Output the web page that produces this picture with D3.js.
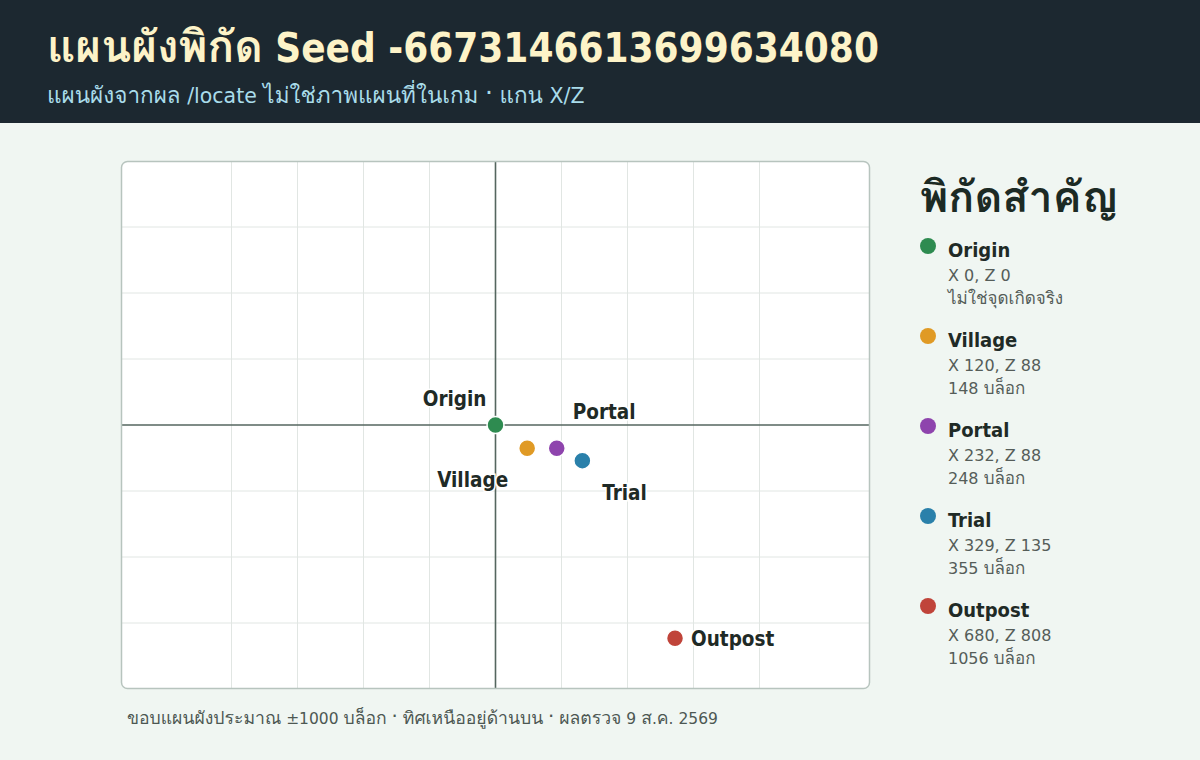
<!DOCTYPE html>
<html>
<head>
<meta charset="utf-8">
<script src="https://cdn.jsdelivr.net/npm/d3@7"></script>
<style>
  html, body { margin: 0; padding: 0; background: #f0f6f2; }
  svg { display: block; }
</style>
</head>
<body>
<svg id="chart" width="1200" height="760"></svg>
<script>
// ---- data ----
const names = ["Origin", "Village", "Portal", "Trial", "Outpost"];
const xValues = [0, 120, 232, 329, 680];
const zValues = [0, 88, 88, 135, 808];
const distLabels = ["ไม่ใช่จุดเกิดจริง", "148 บล็อก", "248 บล็อก", "355 บล็อก", "1056 บล็อก"];
const colors = ["#2e8b50", "#e09a25", "#8e44ad", "#2a80aa", "#c0443a"];
const gridTicks = [-1000, -750, -500, -250, 0, 250, 500, 750, 1000];
const zExtent = [-1000, 1000];

const titleText = "แผนผังพิกัด Seed -6673146613699634080";
const subtitleText = "แผนผังจากผล /locate ไม่ใช่ภาพแผนที่ในเกม · แกน X/Z";
const legendTitle = "พิกัดสำคัญ";
const footerText = "ขอบแผนผังประมาณ ±1000 บล็อก · ทิศเหนืออยู่ด้านบน · ผลตรวจ 9 ส.ค. 2569";

// ---- text helper: Latin runs in DejaVu, Thai runs in Loma ----
const COND = "'DejaVu Sans Condensed', 'DejaVu Sans', sans-serif";
const REG = "'DejaVu Sans', sans-serif";
const THAI = "'Loma', 'DejaVu Sans', sans-serif";
function richText(t, text, o) {
  const parts = text.split(/([\u0E00-\u0E7F\u00B7]+)/).filter(s => s.length);
  t.selectAll("tspan").data(parts).join("tspan")
    .attr("font-family", s => /[\u0E00-\u0E7F\u00B7]/.test(s) ? THAI : o.latin)
    .attr("font-size", s => /[\u0E00-\u0E7F\u00B7]/.test(s) ? o.thaiSize : o.size)
    .text(s => s);
  return t;
}

// ---- layout ----
const svg = d3.select("#chart");
const W = 1200, H = 760;
const plot = { left: 121, right: 870, top: 161, bottom: 689 };

// header band
svg.append("rect").attr("x", 0).attr("y", 0).attr("width", W).attr("height", 123).attr("fill", "#1c2830");
richText(svg.append("text").attr("x", 47).attr("y", 62)
  .attr("font-weight", "bold").attr("fill", "#fdf3c8"),
  titleText, { latin: COND, size: 40, thaiSize: 44 });
richText(svg.append("text").attr("x", 47).attr("y", 103).attr("fill", "#a9dcea"),
  subtitleText, { latin: REG, size: 20.5, thaiSize: 22.5 });

// scales: equal aspect ratio, Z range fixed, X extended to fill width
const y = d3.scaleLinear().domain(zExtent).range([plot.top, plot.bottom]);
const k = (plot.bottom - plot.top) / (zExtent[1] - zExtent[0]);
const xHalf = (plot.right - plot.left) / 2 / k;
const x = d3.scaleLinear().domain([-xHalf, xHalf]).range([plot.left, plot.right]);

// plot background
svg.append("rect").attr("x", plot.left).attr("y", plot.top)
  .attr("width", plot.right - plot.left).attr("height", plot.bottom - plot.top)
  .attr("rx", 6).attr("fill", "#ffffff");

const g = svg.append("g");
// grid
g.selectAll("line.vx").data(gridTicks.filter(t => t !== 0)).join("line")
  .attr("x1", d => x(d)).attr("x2", d => x(d))
  .attr("y1", plot.top).attr("y2", plot.bottom)
  .attr("stroke", "#e1e6e3").attr("stroke-width", 1);
g.selectAll("line.hz").data(gridTicks.filter(t => t !== 0 && Math.abs(t) < 1000)).join("line")
  .attr("y1", d => y(d)).attr("y2", d => y(d))
  .attr("x1", plot.left).attr("x2", plot.right)
  .attr("stroke", "#e1e6e3").attr("stroke-width", 1);
// axes
g.append("line").attr("x1", x(0)).attr("x2", x(0)).attr("y1", plot.top).attr("y2", plot.bottom)
  .attr("stroke", "#55665f").attr("stroke-width", 1.6);
g.append("line").attr("y1", y(0)).attr("y2", y(0)).attr("x1", plot.left).attr("x2", plot.right)
  .attr("stroke", "#55665f").attr("stroke-width", 1.6);

// border
svg.append("rect").attr("x", plot.left + 0.5).attr("y", plot.top + 0.5)
  .attr("width", plot.right - plot.left - 1).attr("height", plot.bottom - plot.top - 1)
  .attr("rx", 6).attr("fill", "none").attr("stroke", "#b7c4be").attr("stroke-width", 1.5);

// points
const pts = names.map((n, i) => ({ name: n, x: xValues[i], z: zValues[i], color: colors[i] }));
g.selectAll("circle.pt").data(pts).join("circle")
  .attr("cx", d => x(d.x)).attr("cy", d => y(d.z)).attr("r", 8.5)
  .attr("fill", d => d.color).attr("stroke", "#ffffff").attr("stroke-width", 1.5);

// labels (offsets in px, anchor)
const labelPlace = {
  Origin: { dx: -9, dy: -19, anchor: "end" },
  Village: { dx: -19, dy: 39, anchor: "end" },
  Portal: { dx: 16, dy: -29, anchor: "start" },
  Trial: { dx: 20, dy: 39, anchor: "start" },
  Outpost: { dx: 16, dy: 8, anchor: "start" }
};
g.selectAll("text.lbl").data(pts).join("text")
  .attr("x", d => x(d.x) + labelPlace[d.name].dx)
  .attr("y", d => y(d.z) + labelPlace[d.name].dy)
  .attr("text-anchor", d => labelPlace[d.name].anchor)
  .attr("font-family", COND).attr("font-weight", "bold")
  .attr("font-size", 20.5).attr("fill", "#1f2a26")
  .attr("stroke", "#ffffff").attr("stroke-width", 3).attr("paint-order", "stroke")
  .text(d => d.name);

// footer
richText(svg.append("text").attr("x", 127).attr("y", 724).attr("fill", "#4d5853"),
  footerText, { latin: REG, size: 15.5, thaiSize: 17.6 });

// legend
const lg = svg.append("g");
richText(lg.append("text").attr("x", 920).attr("y", 212)
  .attr("font-weight", "bold").attr("fill", "#1c2a24"),
  legendTitle, { latin: COND, size: 40, thaiSize: 43 });
const items = lg.selectAll("g.item").data(pts).join("g")
  .attr("transform", (d, i) => `translate(0, ${246 + i * 90})`);
items.append("circle").attr("cx", 928).attr("cy", 0).attr("r", 8).attr("fill", d => d.color);
items.append("text").attr("x", 948).attr("y", 11)
  .attr("font-family", COND).attr("font-weight", "bold")
  .attr("font-size", 20).attr("fill", "#1f2a26").text(d => d.name);
items.append("text").attr("x", 948).attr("y", 35)
  .attr("font-family", REG)
  .attr("font-size", 16).attr("fill", "#555d59").text(d => `X ${d.x}, Z ${d.z}`);
items.append("text").attr("x", 948).attr("y", 58).attr("fill", "#555d59")
  .each(function (d, i) { richText(d3.select(this), distLabels[i], { latin: REG, size: 16, thaiSize: 17 }); });
</script>
</body>
</html>
